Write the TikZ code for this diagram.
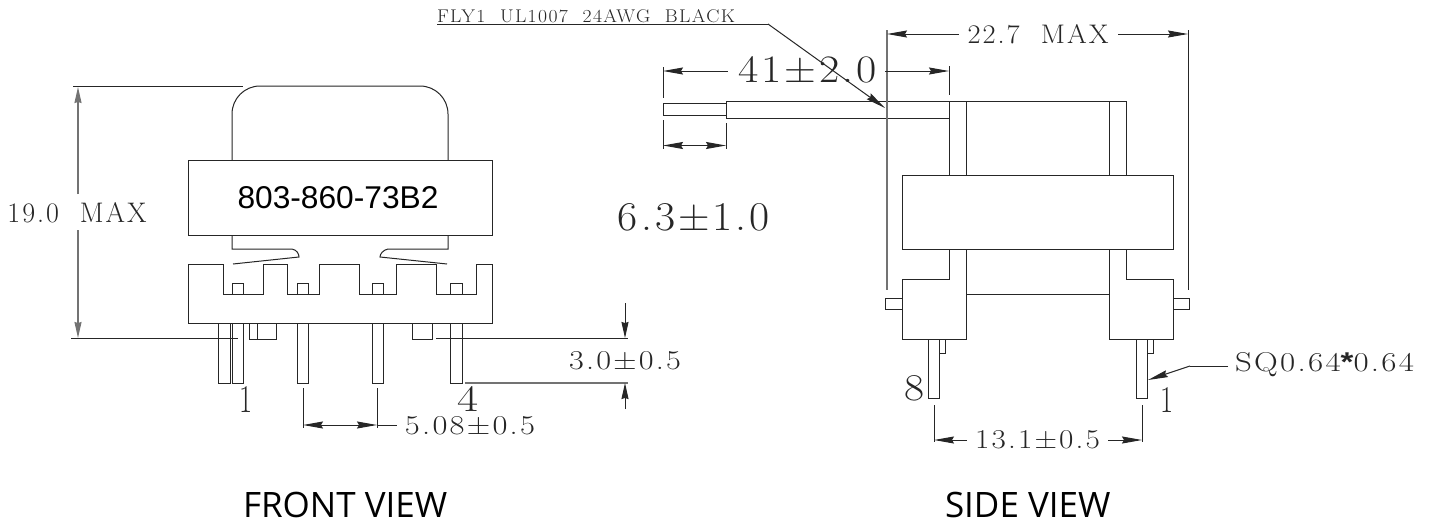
\documentclass[tikz,border=0pt]{standalone}
\usepackage{graphicx}
\usepackage{fontspec}
\newfontfamily\opensf{Open Sans}
\newfontfamily\libsf{Liberation Sans}
\newfontfamily\cadf{lmroman17-regular}[Extension=.otf,LetterSpace=7]
\usetikzlibrary{arrows.meta}
\newcommand\cadfit[3]{\resizebox{#1pt}{#2pt}{\cadf\fontsize{30}{30}\selectfont #3}}
\tikzset{
  x=1pt,y=-1pt,
  lin/.style={line width=1pt,black!85,line join=miter},
  dimline/.style={line width=1pt,black!85},
  grayline/.style={line width=1.4pt,black!55},
  ah/.style={-{Stealth[length=20pt,width=7pt,inset=2pt]}},
  ha/.style={{Stealth[length=20pt,width=7pt,inset=2pt]}-},
  ahh/.style={{Stealth[length=20pt,width=7pt,inset=2pt]}-{Stealth[length=20pt,width=7pt,inset=2pt]}},
  ahv/.style={-{Stealth[length=16pt,width=7pt,inset=1pt]}},
  txt/.style={inner sep=0pt,outer sep=0pt,black!85},
  viewlabel/.style={inner sep=0pt,outer sep=0pt,black,font=\opensf\fontsize{35}{35}\selectfont,anchor=base west}
}
\begin{document}
\begin{tikzpicture}
\useasboundingbox (0,0) rectangle (1430,522);
\fill[white] (0,0) rectangle (1430,522);

% ---------- FRONT VIEW ----------
\draw[lin,rounded corners=28pt] (232,160) -- (232,86) -- (448,86) -- (448,160);
\draw[lin] (188,160) rectangle (492,235);
\draw[lin] (232,235) -- (232,249) -- (292,249) .. controls (297,250) and (299,254) .. (299,257) -- (233,264);
\draw[lin] (448,235) -- (448,249) -- (388,249) .. controls (383,250) and (380,254) .. (380,257) -- (447,264);
\draw[lin] (188,323) -- (188,264) -- (223,264) -- (223,294) -- (263,294) -- (263,264) -- (287,264) -- (287,294)
  -- (319,294) -- (319,264) -- (359,264) -- (359,294) -- (396,294) -- (396,264) -- (436,264) -- (436,294)
  -- (476,294) -- (476,264) -- (492,264) -- (492,323) -- cycle;
\foreach \a/\b in {232/243,297/308,372/383,450/462}{
  \draw[lin] (\a,294) -- (\a,283) -- (\b,283) -- (\b,294);
}
\foreach \a/\b in {218/230,232/243,297/308,372/383,450/462}{
  \draw[lin] (\a,323) -- (\a,383) -- (\b,383) -- (\b,323);
}
\draw[lin] (249,323) -- (249,339) -- (276,339) -- (276,323);
\draw[lin] (257,323) -- (257,339);
\draw[lin] (412,323) -- (412,339) -- (432,339) -- (432,323);
\node[txt,black] (part) at (338,198) {\resizebox{201pt}{22pt}{\libsf\fontsize{32}{32}\selectfont 803-860-73B2}};

% front dimensions
\draw[dimline] (73,86) -- (243,86);
\draw[dimline] (71,338) -- (238,338);
\draw[grayline,ahv] (78,194) -- (78,87);
\draw[grayline,ahv] (78,230) -- (78,338);
\node[txt] (h190) at (77,213) {\cadfit{139}{20}{19.0 \ MAX}};
\draw[dimline] (436,338) -- (628,338);
\draw[grayline] (465,383) -- (628,383);
\draw[dimline,ahv] (625,303) -- (625,338);
\draw[dimline,ahv] (625,409) -- (625,383);
\node[txt] (d30) at (625,361) {\cadfit{112}{18}{3.0±0.5}};
\draw[dimline] (303,388) -- (303,428);
\draw[dimline] (377,388) -- (377,428);
\draw[dimline,ahh] (303,425) -- (377,425);
\draw[dimline] (377,425) -- (397,425);
\node[txt] (d508) at (470,426) {\cadfit{130}{18}{5.08±0.5}};
\node[txt] (pa1) at (245.5,399) {\cadfit{13}{26}{1}};
\node[txt] (pa4) at (467.5,398.5) {\cadfit{21}{25}{4}};
\node[viewlabel] (fv) at (243,517) {FRONT VIEW};

% ---------- SIDE VIEW ----------
\draw[lin] (663,103) rectangle (726,115);
\draw[lin] (949,101) -- (726,101) -- (726,118.5) -- (949,118.5);
\draw[lin] (949,175) -- (949,101) -- (1126,101) -- (1126,175);
\draw[lin] (966,101) -- (966,175);
\draw[lin] (1109,101) -- (1109,175);
\draw[lin] (902,175) rectangle (1173,249);
\draw[lin] (949,249) -- (949,279) -- (902,279) -- (902,339) -- (966,339) -- (966,249);
\draw[lin] (1109,249) -- (1109,339) -- (1173,339) -- (1173,279) -- (1126,279) -- (1126,249);
\draw[lin] (966,294) -- (1109,294);
\draw[lin] (902,298) -- (885,298) -- (885,309) -- (902,309);
\draw[lin] (1173,298) -- (1189,298) -- (1189,309) -- (1173,309);
\draw[lin] (928,339) -- (928,398) -- (939,398) -- (939,339);
\draw[lin] (939,353) -- (945,353) -- (945,339);
\draw[lin] (1136,339) -- (1136,398) -- (1147,398) -- (1147,339);
\draw[lin] (1147,353) -- (1153,353) -- (1153,339);

% side dimensions
\draw[grayline] (887,30) -- (887,290);
\draw[dimline] (1188,30) -- (1188,290);
\draw[dimline,ha] (887,34) -- (959,34);
\draw[dimline,ah] (1118,34) -- (1188,34);
\node[txt] (d227) at (1038,34.5) {\cadfit{141}{19}{22.7 \ MAX}};

\draw[dimline] (663,67) -- (663,98);
\draw[dimline] (949,66) -- (949,95);
\draw[dimline,ha] (663,71) -- (728,71);
\draw[dimline,ah] (885,71) -- (949,71);
\node[txt] (d41) at (807.5,70) {\cadfit{139}{26}{41±2.0}};
\draw[dimline] (663,120) -- (663,149);
\draw[dimline] (726,123) -- (726,149);
\draw[dimline,ahh] (663,145.5) -- (726,145.5);

\node[txt] (fly) at (586,16) {\cadfit{298}{13}{FLY1 \ UL1007 \ 24AWG \ BLACK}};
\coordinate (flyk) at (768,24);
\coordinate (flyl) at (437,24);
\coordinate (flytip) at (885,108);
\draw[dimline] (flyl) -- (flyk);
\draw[dimline,ah] (flyk) -- (flytip);

\node[txt] (d63) at (694,217.5) {\cadfit{152}{27}{6.3±1.0}};

\draw[dimline] (934,405) -- (934,442);
\draw[dimline] (1142,405) -- (1142,442);
\draw[dimline,ha] (934,440) -- (967,440);
\draw[dimline,ah] (1108,440) -- (1142,440);
\node[txt] (d131) at (1037.5,440) {\cadfit{125}{18}{13.1±0.5}};
\node[txt] (p8) at (914,388.5) {\cadfit{20}{25}{8}};
\node[txt] (p1) at (1166.5,399.5) {\cadfit{13}{25}{1}};

\node[txt,anchor=west] (sq) at (1235,365) {\cadfit{179}{19}{SQ0.64{\libsf\bfseries *}0.64}};
\coordinate (sqk) at (1190,366);
\coordinate (sqe) at (1228,366);
\coordinate (sqt) at (1148,380);
\draw[dimline] (sqe) -- (sqk);
\draw[dimline,ah] (sqk) -- (sqt);
\node[viewlabel] (sv) at (945,517) {SIDE VIEW};
\end{tikzpicture}
\end{document}
